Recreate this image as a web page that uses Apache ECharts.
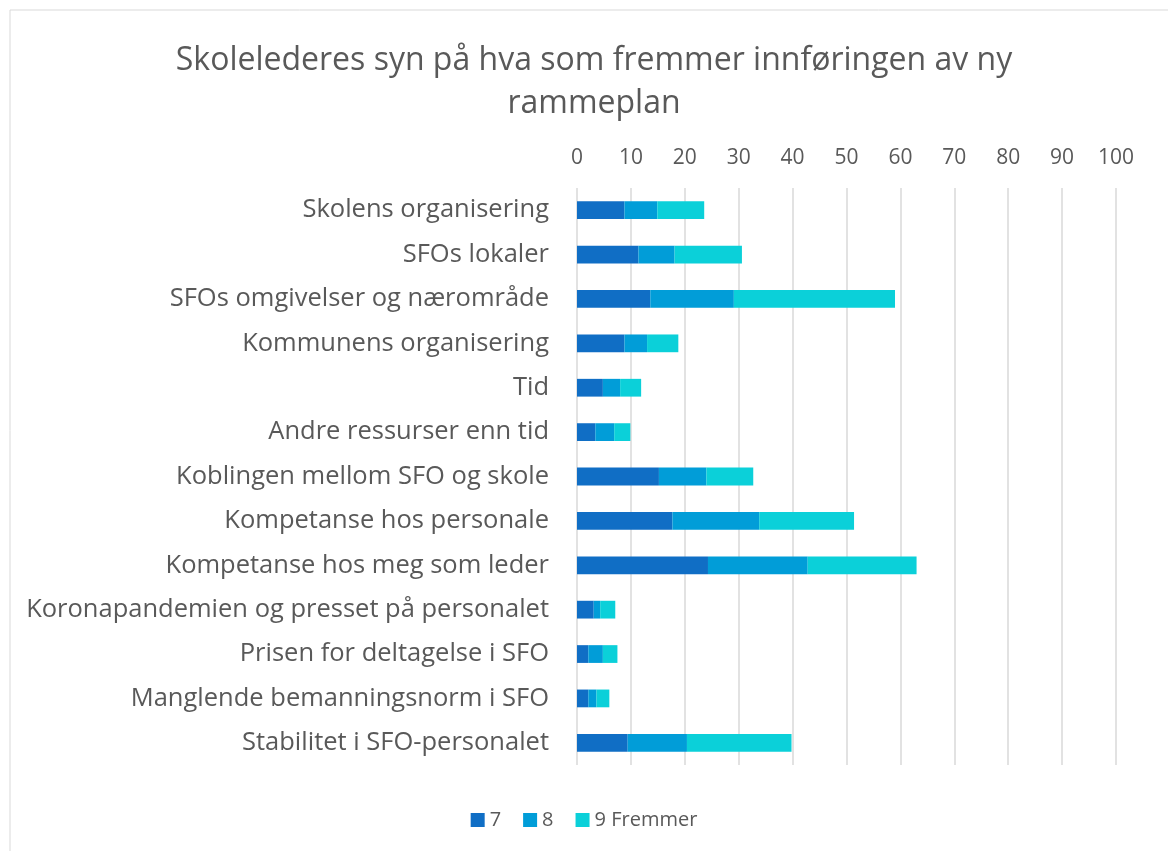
<!DOCTYPE html>
<html>
<head>
<meta charset="utf-8">
<script src="https://cdn.jsdelivr.net/npm/echarts@6/dist/echarts.min.js"></script>
<style>
  html, body { margin: 0; padding: 0; background: #fff; }
  #main { width: 1168px; height: 851px; }
</style>
</head>
<body>
<div id="main"></div>
<script>
var categories = [
    'Skolens organisering',
    'SFOs lokaler',
    'SFOs omgivelser og nærområde',
    'Kommunens organisering',
    'Tid',
    'Andre ressurser enn tid',
    'Koblingen mellom SFO og skole',
    'Kompetanse hos personale',
    'Kompetanse hos meg som leder',
    'Koronapandemien og presset på personalet',
    'Prisen for deltagelse i SFO',
    'Manglende bemanningsnorm i SFO',
    'Stabilitet i SFO-personalet'
];
var seriesNames = ['7', '8', '9 Fremmer'];
var values7 = [8.8, 11.4, 13.6, 8.8, 4.8, 3.4, 15.2, 17.7, 24.3, 3.1, 2.1, 2.1, 9.4];
var values8 = [6.1, 6.7, 15.5, 4.2, 3.2, 3.5, 8.8, 16.1, 18.5, 1.2, 2.7, 1.5, 11.0];
var values9 = [8.7, 12.5, 29.9, 5.8, 3.9, 3.0, 8.7, 17.6, 20.2, 2.8, 2.7, 2.4, 19.4];
var colors = ['#106ec5', '#019dd8', '#0bd0d9'];

var chartDom = document.getElementById('main');
var myChart = echarts.init(chartDom);
var option;

var textColor = '#595959';
var font = '"Open Sans", sans-serif';

function makeSeries(name, data, color) {
    return {
        name: name,
        type: 'bar',
        stack: 'total',
        data: data,
        barWidth: '40%',
        itemStyle: { color: color },
        emphasis: { disabled: true }
    };
}

option = {
    animation: false,
    title: {
        text: 'Skolelederes syn på hva som fremmer innføringen av ny\nrammeplan',
        left: 589,
        textAlign: 'center',
        top: 34,
        textStyle: {
            color: textColor,
            fontFamily: font,
            fontWeight: 'normal',
            fontSize: 32,
            lineHeight: 43
        }
    },
    legend: {
        bottom: 16,
        left: 'center',
        itemWidth: 14,
        itemHeight: 14,
        itemGap: 22,
        icon: 'rect',
        textStyle: { color: textColor, fontFamily: font, fontSize: 20 },
        data: seriesNames
    },
    grid: {
        left: 577,
        right: 52,
        top: 188,
        bottom: 86,
        containLabel: false
    },
    xAxis: {
        type: 'value',
        position: 'top',
        min: 0,
        max: 100,
        interval: 10,
        axisLine: { show: false },
        axisTick: { show: false },
        axisLabel: { color: textColor, fontFamily: font, fontSize: 21, margin: 19 },
        splitLine: { lineStyle: { color: '#d9d9d9', width: 1.5 } }
    },
    yAxis: {
        type: 'category',
        inverse: true,
        data: categories,
        axisLine: { show: false },
        axisTick: { show: false },
        axisLabel: { color: textColor, fontFamily: font, fontSize: 25.5, margin: 28 }
    },
    graphic: [
        {
            type: 'polyline',
            shape: { points: [[10, 851], [10, 10], [1168, 10]] },
            style: { stroke: '#d9d9d9', lineWidth: 1, fill: null }
        }
    ],
    series: [
        makeSeries(seriesNames[0], values7, colors[0]),
        makeSeries(seriesNames[1], values8, colors[1]),
        makeSeries(seriesNames[2], values9, colors[2])
    ]
};

option && myChart.setOption(option);
</script>
</body>
</html>
